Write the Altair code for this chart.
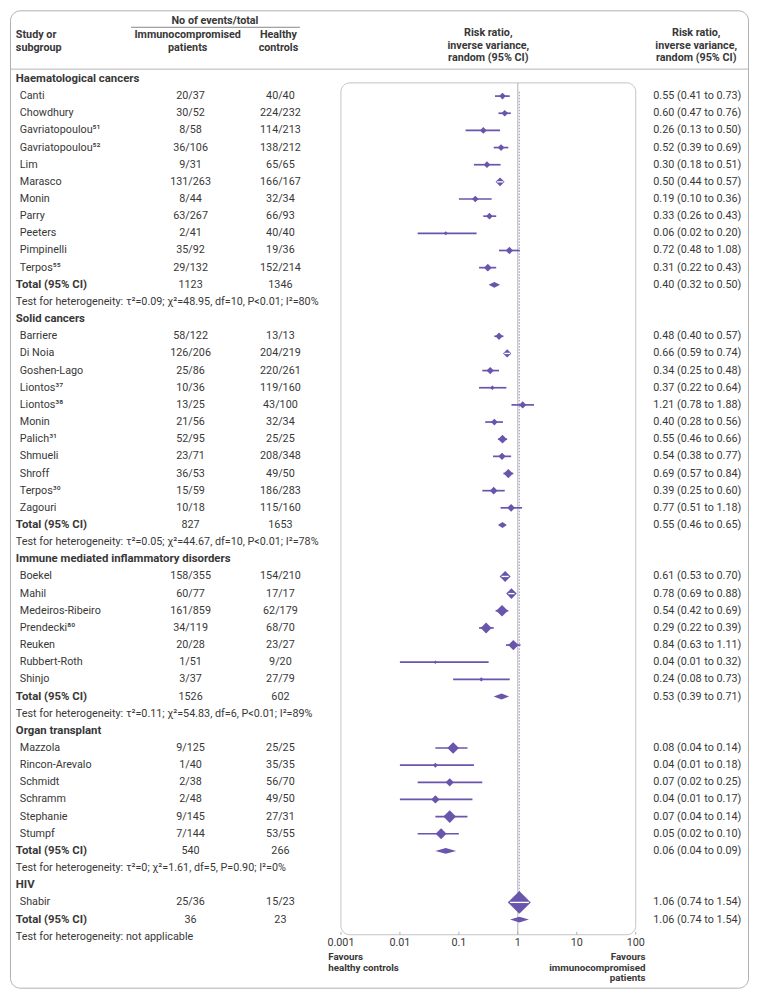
import altair as alt
import pandas as pd
import numpy as np

# ---------------- data ----------------
group_names = ["Haematological cancers", "Solid cancers",
               "Immune mediated inflammatory disorders", "Organ transplant", "HIV"]

study_group = [0] * 11 + [1] * 11 + [2] * 7 + [3] * 6 + [4] * 1

study_names = [
    "Canti", "Chowdhury", "Gavriatopoulou⁵¹", "Gavriatopoulou⁵²", "Lim", "Marasco",
    "Monin", "Parry", "Peeters", "Pimpinelli", "Terpos⁵⁵",
    "Barriere", "Di Noia", "Goshen-Lago", "Liontos³⁷", "Liontos³⁸", "Monin",
    "Palich³¹", "Shmueli", "Shroff", "Terpos³⁰", "Zagouri",
    "Boekel", "Mahil", "Medeiros-Ribeiro", "Prendecki⁸⁰", "Reuken", "Rubbert-Roth", "Shinjo",
    "Mazzola", "Rincon-Arevalo", "Schmidt", "Schramm", "Stephanie", "Stumpf",
    "Shabir",
]

immuno_events = [
    "20/37", "30/52", "8/58", "36/106", "9/31", "131/263", "8/44", "63/267", "2/41", "35/92", "29/132",
    "58/122", "126/206", "25/86", "10/36", "13/25", "21/56", "52/95", "23/71", "36/53", "15/59", "10/18",
    "158/355", "60/77", "161/859", "34/119", "20/28", "1/51", "3/37",
    "9/125", "1/40", "2/38", "2/48", "9/145", "7/144",
    "25/36",
]

control_events = [
    "40/40", "224/232", "114/213", "138/212", "65/65", "166/167", "32/34", "66/93", "40/40", "19/36", "152/214",
    "13/13", "204/219", "220/261", "119/160", "43/100", "32/34", "25/25", "208/348", "49/50", "186/283", "115/160",
    "154/210", "17/17", "62/179", "68/70", "23/27", "9/20", "27/79",
    "25/25", "35/35", "56/70", "49/50", "27/31", "53/55",
    "15/23",
]

rr = [0.55, 0.60, 0.26, 0.52, 0.30, 0.50, 0.19, 0.33, 0.06, 0.72, 0.31,
      0.48, 0.66, 0.34, 0.37, 1.21, 0.40, 0.55, 0.54, 0.69, 0.39, 0.77,
      0.61, 0.78, 0.54, 0.29, 0.84, 0.04, 0.24,
      0.08, 0.04, 0.07, 0.04, 0.07, 0.05,
      1.06]
rr_lo = [0.41, 0.47, 0.13, 0.39, 0.18, 0.44, 0.10, 0.26, 0.02, 0.48, 0.22,
         0.40, 0.59, 0.25, 0.22, 0.78, 0.28, 0.46, 0.38, 0.57, 0.25, 0.51,
         0.53, 0.69, 0.42, 0.22, 0.63, 0.01, 0.08,
         0.04, 0.01, 0.02, 0.01, 0.04, 0.02,
         0.74]
rr_hi = [0.73, 0.76, 0.50, 0.69, 0.51, 0.57, 0.36, 0.43, 0.20, 1.08, 0.43,
         0.57, 0.74, 0.48, 0.64, 1.88, 0.56, 0.66, 0.77, 0.84, 0.60, 1.18,
         0.70, 0.88, 0.69, 0.39, 1.11, 0.32, 0.73,
         0.14, 0.18, 0.25, 0.17, 0.14, 0.10,
         1.54]
# estimated relative study weights (%)
weight = [8.5, 8.5, 8.5, 8.5, 8.5, 15.3, 8.5, 8.5, 3.0, 10.1, 11.2,
          10.1, 13.0, 10.1, 4.2, 10.1, 8.5, 14.3, 10.1, 16.3, 11.2, 11.2,
          22.9, 21.6, 25.9, 22.9, 20.1, 2.1, 3.5,
          25.9, 4.7, 13.0, 13.0, 30.5, 22.9,
          100.0]

total_immuno = ["1123", "827", "1526", "540", "36"]
total_control = ["1346", "1653", "602", "266", "23"]
total_rr = [0.40, 0.55, 0.53, 0.06, 1.06]
total_lo = [0.32, 0.46, 0.39, 0.04, 0.74]
total_hi = [0.50, 0.65, 0.71, 0.09, 1.54]
heterogeneity = [
    "τ²=0.09; χ²=48.95, df=10, P<0.01; I²=80%",
    "τ²=0.05; χ²=44.67, df=10, P<0.01; I²=78%",
    "τ²=0.11; χ²=54.83, df=6, P<0.01; I²=89%",
    "τ²=0; χ²=1.61, df=5, P=0.90; I²=0%",
    "not applicable",
]

tick_values = [0.001, 0.01, 0.1, 1, 10, 100]
tick_labels = ["0.001", "0.01", "0.1", "1", "10", "100"]

# ---------------- layout helpers ----------------
W, H = 740, 980
REF_W, REF_H = 756, 997
ROW0_Y, ROW_H = 71, 17.5


def px(xr):
    return (xr - 1) * W / REF_W


def ref_r(yr):
    return (yr - ROW0_Y) / ROW_H


LOG_LO_X, LOG_HI_X = 340, 642
dec = (LOG_HI_X - LOG_LO_X) / 5
xmin = 10 ** (-3 - (LOG_LO_X - 1) / dec)
xmax = 10 ** (2 + (757 - LOG_HI_X) / dec)
dec_chart = dec * W / REF_W

xscale = alt.Scale(type="log", domain=[xmin, xmax], nice=False, zero=False)
yscale = alt.Scale(domain=[ref_r(1), ref_r(998)], reverse=True, zero=False, nice=False)

PURPLE = "#6a55ad"
TEXT = "#383838"
GRID = "#b5b5b5"
FONT = "Liberation Sans Narrow, Roboto, sans-serif"
FS = 10.8
FSB = 11.4
FSH = 10.8
SIZE_MAX = 529

# ---------------- build rows ----------------
rows = []
r = 0
for g, gname in enumerate(group_names):
    rows.append(dict(r=r, kind="heading", label=gname))
    r += 1
    for i, sg in enumerate(study_group):
        if sg != g:
            continue
        ci_px = (np.log10(rr_hi[i]) - np.log10(rr_lo[i])) * dec_chart
        mk_px = np.sqrt(weight[i] / 100 * SIZE_MAX)
        rows.append(dict(r=r, kind="study", label=study_names[i], imm=immuno_events[i],
                         ctl=control_events[i], est=rr[i], lo=rr_lo[i], hi=rr_hi[i],
                         w=weight[i], inner=bool(ci_px < mk_px),
                         ci=f"{rr[i]:.2f} ({rr_lo[i]:.2f} to {rr_hi[i]:.2f})"))
        r += 1
    rows.append(dict(r=r, kind="total", label="Total (95% CI)", imm=total_immuno[g],
                     ctl=total_control[g], est=total_rr[g], lo=total_lo[g], hi=total_hi[g],
                     ci=f"{total_rr[g]:.2f} ({total_lo[g]:.2f} to {total_hi[g]:.2f})"))
    r += 1
    rows.append(dict(r=r, kind="test", label="Test for heterogeneity: " + heterogeneity[g]))
    r += 1

df = pd.DataFrame(rows)
studies = df[df.kind == "study"].copy()
totals = df[df.kind == "total"].copy()
nums = df[df.kind.isin(["study", "total"])].copy()

# diamond polygons for pooled estimates
hh = 0.17
poly = []
for _, t in totals.iterrows():
    poly.append(dict(id=t.r, x=t.lo, y=t.r, y2=t.r))
    poly.append(dict(id=t.r, x=t.est, y=t.r - hh, y2=t.r + hh))
    poly.append(dict(id=t.r, x=t.hi, y=t.r, y2=t.r))
poly = pd.DataFrame(poly)

first_row = studies.r.min()
box_top = ref_r(75)
box_bot = ref_r(944)
shabir_row = studies.r.max()

Y = lambda f: alt.Y(f, scale=yscale, axis=None)
X = lambda f: alt.X(f, scale=xscale, axis=None)


def text_layer(data, field, xpos, align="left", bold=False, size=None, color=TEXT):
    if size is None:
        size = FSB if bold else FS
    return alt.Chart(data).mark_text(
        align=align, baseline="middle", font=FONT, fontSize=size,
        fontWeight="bold" if bold else "normal", color=color
    ).encode(x=alt.value(xpos), y=Y("r:Q"), text=f"{field}:N")


layers = []

# header rule lines
layers.append(alt.Chart(pd.DataFrame({"r": [ref_r(61)]})).mark_rule(color=GRID, strokeWidth=1)
              .encode(x=alt.value(0), x2=alt.value(W), y=Y("r:Q")))
layers.append(alt.Chart(pd.DataFrame({"r": [ref_r(18.3)]})).mark_rule(color="#888888", strokeWidth=1)
              .encode(x=alt.value(px(125)), x2=alt.value(px(298)), y=Y("r:Q")))

# forest box
box = pd.DataFrame({"x": [tick_values[0]], "x2": [tick_values[-1]], "r": [box_top], "r2": [box_bot]})
layers.append(alt.Chart(box).mark_rect(fillOpacity=0, stroke="#c4c4c4", strokeWidth=1, cornerRadius=9)
              .encode(x=X("x:Q"), x2="x2:Q", y=Y("r:Q"), y2="r2:Q"))

# null line
layers.append(alt.Chart(pd.DataFrame({"x": [1], "r": [box_top], "r2": [box_bot]}))
              .mark_rule(color="#b0b0b0", strokeWidth=1)
              .encode(x=X("x:Q"), y=Y("r:Q"), y2="r2:Q"))
# dotted line at overall estimate
layers.append(alt.Chart(pd.DataFrame({"x": [total_rr[-1]], "r": [first_row - 0.25], "r2": [shabir_row - 0.5]}))
              .mark_rule(color="#9a8fd0", strokeWidth=1, strokeDash=[1.5, 1.5])
              .encode(x=X("x:Q"), y=Y("r:Q"), y2="r2:Q"))

# ticks and tick labels
ticks = pd.DataFrame({"x": tick_values, "lab": tick_labels, "r": [box_bot - 0.17] * 6,
                      "r2": [box_bot] * 6, "rl": [ref_r(952.5)] * 6})
layers.append(alt.Chart(ticks).mark_rule(color="#b0b0b0", strokeWidth=1)
              .encode(x=X("x:Q"), y=Y("r:Q"), y2="r2:Q"))
layers.append(alt.Chart(ticks).mark_text(align="center", baseline="middle", font=FONT, fontSize=FS, color=TEXT)
              .encode(x=X("x:Q"), y=Y("rl:Q"), text="lab:N"))

# confidence intervals
layers.append(alt.Chart(studies).mark_rule(color=PURPLE, strokeWidth=1.7)
              .encode(x=X("lo:Q"), x2="hi:Q", y=Y("r:Q")))
# study markers
layers.append(alt.Chart(studies).mark_point(shape="diamond", filled=True, color=PURPLE, opacity=1)
              .encode(x=X("est:Q"), y=Y("r:Q"),
                      size=alt.Size("w:Q", scale=alt.Scale(domain=[0, 100], range=[0, SIZE_MAX]), legend=None)))
# white CI where it lies inside the marker
layers.append(alt.Chart(studies[studies.inner]).mark_rule(color="white", strokeWidth=1.3)
              .encode(x=X("lo:Q"), x2="hi:Q", y=Y("r:Q")))
# pooled diamonds
layers.append(alt.Chart(poly).mark_area(color=PURPLE, orient="vertical", opacity=1)
              .encode(x=X("x:Q"), y=Y("y:Q"), y2="y2:Q", detail="id:N"))

# text columns
layers.append(text_layer(df[df.kind == "heading"], "label", px(7), bold=True))
layers.append(text_layer(studies, "label", px(11)))
layers.append(text_layer(totals, "label", px(7), bold=True))
layers.append(text_layer(df[df.kind == "test"], "label", px(7)))
layers.append(text_layer(nums, "imm", px(186), align="center"))
layers.append(text_layer(nums, "ctl", px(278), align="center"))
layers.append(text_layer(nums, "ci", px(660)))

# headers
hdr = lambda txt, yr: pd.DataFrame({"t": [txt], "r": [ref_r(yr)]})
layers.append(text_layer(hdr("No of events/total", 11.5), "t", px(211), align="center", bold=True, size=FSH))
layers.append(text_layer(pd.concat([hdr("Study or", 26.5), hdr("subgroup", 39.5)]), "t", px(7), bold=True, size=FSH))
layers.append(text_layer(pd.concat([hdr("Immunocompromised", 26.5), hdr("patients", 39.5)]), "t", px(183), align="center", bold=True, size=FSH))
layers.append(text_layer(pd.concat([hdr("Healthy", 26.5), hdr("controls", 39.5)]), "t", px(276), align="center", bold=True, size=FSH))
rr_hdr = pd.concat([hdr("Risk ratio,", 24.5), hdr("inverse variance,", 37.3), hdr("random (95% CI)", 50)])
layers.append(text_layer(rr_hdr, "t", px(491), align="center", bold=True, size=FSH))
layers.append(text_layer(rr_hdr, "t", px(704), align="center", bold=True, size=FSH))

# favours labels
fav_l = pd.concat([hdr("Favours", 966.5), hdr("healthy controls", 977.5)])
fav_r = pd.concat([hdr("Favours", 966.5), hdr("immunocompromised", 977.5), hdr("patients", 988.5)])
layers.append(text_layer(fav_l, "t", px(327), bold=True, size=9.8))
layers.append(text_layer(fav_r, "t", px(652), align="right", bold=True, size=9.8))

chart = alt.layer(*layers).properties(
    width=W, height=H, padding=1
).configure_view(
    stroke="#b0b0b0", strokeWidth=1, cornerRadius=10
)

chart.save("out.html", embed_options={"renderer": "svg", "actions": False})
